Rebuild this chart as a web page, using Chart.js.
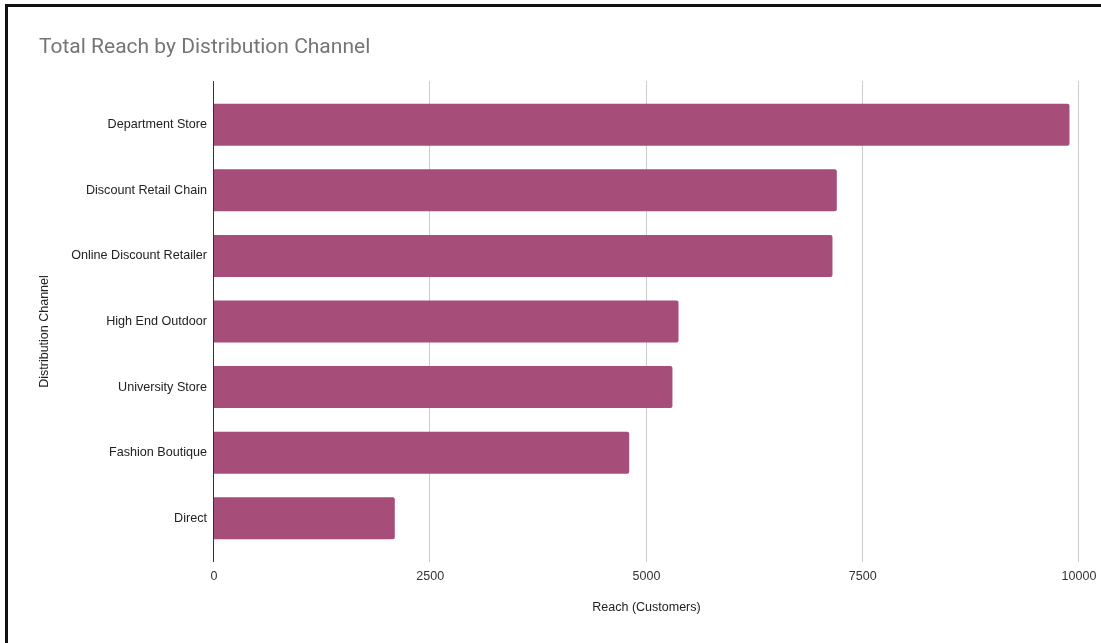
<!DOCTYPE html>
<html>
<head>
<meta charset="utf-8">
<title>Total Reach by Distribution Channel</title>
<script src="https://cdn.jsdelivr.net/npm/chart.js@4/dist/chart.umd.min.js"></script>
<style>
  html, body { margin: 0; padding: 0; background: #fff; overflow: hidden; }
  #wrap { position: relative; width: 1101px; height: 643px; }
  #frame {
    position: absolute; left: 5px; top: 4px; width: 1200px; height: 800px;
    border-left: 3px solid #111; border-top: 3px solid #111;
    pointer-events: none; box-sizing: border-box;
  }
</style>
</head>
<body>
<div id="wrap">
  <canvas id="c" width="1101" height="643"></canvas>
  <div id="frame"></div>
</div>
<script>
const chartTitle = 'Total Reach by Distribution Channel';
const yAxisTitle = 'Distribution Channel';
const channels = [
  'Department Store',
  'Discount Retail Chain',
  'Online Discount Retailer',
  'High End Outdoor',
  'University Store',
  'Fashion Boutique',
  'Direct'
];
const reach = [9890, 7200, 7150, 5370, 5300, 4800, 2090];
const reachTicks = [0, 2500, 5000, 7500, 10000];

const BAR_COLOR = '#a64d79';
const GRID_EXTRA = 11;
const LABEL_FONT = 'Arial, "Liberation Sans", sans-serif';

// Vertical grid lines and the zero axis, drawn a little past the plot area,
// plus the chart heading and the vertical axis caption
const gridPlugin = {
  id: 'reachGrid',
  beforeDatasetsDraw(chart) {
    const { ctx, chartArea, scales } = chart;
    ctx.save();
    ctx.strokeStyle = '#cccccc';
    ctx.lineWidth = 1;
    reachTicks.forEach(v => {
      if (v === 0) return;
      const x = Math.round(scales.x.getPixelForValue(v)) - 0.5;
      ctx.beginPath();
      ctx.moveTo(x, chartArea.top - GRID_EXTRA);
      ctx.lineTo(x, chartArea.bottom + GRID_EXTRA);
      ctx.stroke();
    });
    ctx.restore();
  },
  afterDatasetsDraw(chart) {
    const { ctx, chartArea, scales } = chart;
    const x = Math.round(scales.x.getPixelForValue(0)) - 0.5;
    ctx.save();
    ctx.strokeStyle = '#333333';
    ctx.lineWidth = 1;
    ctx.beginPath();
    ctx.moveTo(x, chartArea.top - GRID_EXTRA);
    ctx.lineTo(x, chartArea.bottom + GRID_EXTRA);
    ctx.stroke();
    ctx.restore();
  },
  afterDraw(chart) {
    const { ctx, chartArea } = chart;
    ctx.save();
    ctx.font = '21px Roboto, "Noto Sans", sans-serif';
    ctx.fillStyle = '#757575';
    ctx.textAlign = 'left';
    ctx.textBaseline = 'middle';
    ctx.fillText(chartTitle, 39, 48);

    ctx.font = '12.5px ' + LABEL_FONT;
    ctx.fillStyle = '#222222';
    ctx.textAlign = 'center';
    ctx.translate(45, (chartArea.top + chartArea.bottom) / 2 + 10);
    ctx.rotate(-Math.PI / 2);
    ctx.fillText(yAxisTitle, 0, 0);
    ctx.restore();
  }
};

new Chart(document.getElementById('c'), {
  type: 'bar',
  data: {
    labels: channels,
    datasets: [{
      label: 'Reach (Customers)',
      data: reach,
      backgroundColor: BAR_COLOR,
      borderRadius: 2,
      borderSkipped: 'start',
      categoryPercentage: 1,
      barPercentage: 0.64
    }]
  },
  options: {
    indexAxis: 'y',
    responsive: false,
    animation: false,
    layout: { padding: { top: 92, right: 22, bottom: 0, left: 0 } },
    plugins: {
      legend: { display: false },
      title: { display: false },
      tooltip: { enabled: false }
    },
    scales: {
      x: {
        type: 'linear',
        min: 0,
        max: 10000,
        afterBuildTicks(scale) { scale.ticks = reachTicks.map(v => ({ value: v })); },
        afterFit(scale) {
          scale.height = 92;
          scale.paddingLeft = 0;
          scale.paddingRight = 0;
        },
        grid: { display: false, drawTicks: false },
        border: { display: false },
        ticks: {
          padding: 18,
          color: '#333333',
          font: { family: LABEL_FONT, size: 12.5 },
          callback: v => String(v)
        },
        title: {
          display: true,
          text: 'Reach (Customers)',
          color: '#222222',
          font: { family: LABEL_FONT, size: 12.5 },
          padding: { top: 0, bottom: 28 }
        }
      },
      y: {
        afterFit(scale) { scale.width = 214; },
        grid: { display: false, drawTicks: false },
        border: { display: false },
        ticks: {
          padding: 7,
          color: '#222222',
          font: { family: LABEL_FONT, size: 12.6 }
        }
      }
    }
  },
  plugins: [gridPlugin]
});
</script>
</body>
</html>
